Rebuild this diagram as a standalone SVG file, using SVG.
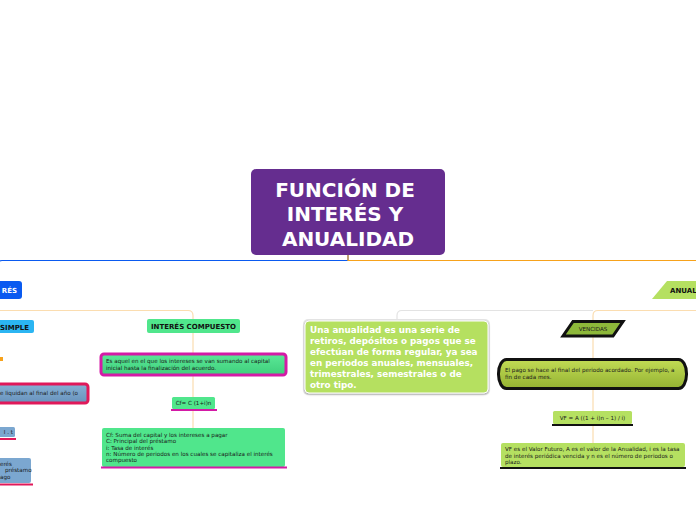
<svg xmlns="http://www.w3.org/2000/svg" width="696" height="520" viewBox="0 0 696 520">
<defs>
<linearGradient id="gGreen" x1="0" y1="0" x2="0" y2="1"><stop offset="0" stop-color="#5BE897"/><stop offset="1" stop-color="#3FCF7C"/></linearGradient>
<linearGradient id="gBlue" x1="0" y1="0" x2="0" y2="1"><stop offset="0" stop-color="#86B0D6"/><stop offset="1" stop-color="#6893BC"/></linearGradient>
<linearGradient id="gOlive" x1="0" y1="0" x2="0" y2="1"><stop offset="0" stop-color="#C2DC55"/><stop offset="1" stop-color="#94B232"/></linearGradient>
<filter id="sh" x="-10%" y="-10%" width="120%" height="130%"><feDropShadow dx="0" dy="1" stdDeviation="1" flood-color="#000" flood-opacity="0.3"/></filter>
</defs>
<style>
.t{font-family:"DejaVu Sans",Verdana,sans-serif;}
.b{font-weight:bold;}
.s{font-size:5.6px;fill:#1a1a1a;}
.h{font-size:7px;font-weight:bold;fill:#111;}
.conn{fill:none;stroke-width:1.2;}
</style>
<rect width="696" height="520" fill="#fff"/>

<g id="connectors">
<path class="conn" d="M348 255 V260.5 H2 Q-3 260.5 -3 266" stroke="#0A5AF0"/>
<path class="conn" d="M348 255 V260.5 H696" stroke="#F7A21B"/>
<path class="conn" d="M-5 316 Q-5 310.5 0 310.5 H188 Q193 310.5 193 315.5 V428" stroke="#FBDDB0" stroke-width="1.5"/>
<path class="conn" d="M593 310.5 H402 Q397 310.5 397 315.5 V321" stroke="#E3E3E3" stroke-width="1.5"/>
<path class="conn" d="M696 310.5 H598 Q593 310.5 593 315.5 V443" stroke="#FBDDB0" stroke-width="1.5"/>
</g>

<g id="root">
<rect x="251" y="169" width="194" height="86" rx="5" fill="#652D8F"/>
<text class="t b" x="345" y="197" font-size="20" fill="#fff" text-anchor="middle">FUNCIÓN DE</text>
<text class="t b" x="345" y="221" font-size="20" fill="#fff" text-anchor="middle">INTERÉS Y</text>
<text class="t b" x="348" y="246" font-size="20" fill="#fff" text-anchor="middle">ANUALIDAD</text>
</g>

<g id="interes">
<rect x="-10" y="281" width="32" height="18" rx="3" fill="#0A5AF0"/>
<text class="t b" x="17" y="293" font-size="7" fill="#fff" text-anchor="end">RÉS</text>
</g>

<g id="simple">
<rect x="-10" y="320" width="44" height="13" rx="2" fill="#2BB5F2"/>
<text class="t h" x="29" y="329.5" text-anchor="end">SIMPLE</text>
</g>

<g id="simple-dot"><rect x="-1" y="357" width="4" height="4" fill="#F7A21B"/></g>

<g id="simple-def">
<rect x="-10" y="384" width="98" height="19" rx="3" fill="url(#gBlue)" stroke="#E0195A" stroke-width="3"/>
<text class="t s" x="78" y="395" text-anchor="end">e liquidan al final del año (o</text>
</g>

<g id="simple-formula">
<rect x="-10" y="427" width="25" height="10" rx="1.5" fill="#7BA7D0"/>
<text class="t s" x="13" y="434" text-anchor="end">I . t</text>
<line x1="-2" y1="439" x2="16" y2="439" stroke="#E0195A" stroke-width="2"/>
</g>

<g id="simple-vars">
<rect x="-10" y="458" width="41" height="25" rx="2" fill="#7BA7D0"/>
<text class="t s" x="0" y="466">erés</text>
<text class="t s" x="5" y="472">préstamo</text>
<text class="t s" x="0" y="479">ago</text>
<line x1="-2" y1="484.5" x2="33" y2="484.5" stroke="#E0195A" stroke-width="2"/>
</g>

<g id="compuesto">
<rect x="147" y="319" width="93" height="14" rx="2" fill="#50E68C"/>
<text class="t h" x="193.5" y="328.5" text-anchor="middle">INTERÉS COMPUESTO</text>
</g>

<g id="compuesto-def">
<rect x="101" y="354" width="185" height="21" rx="3" fill="url(#gGreen)" stroke="#D41AA6" stroke-width="3"/>
<text class="t s" x="106" y="363">Es aquel en el que los intereses se van sumando  al capital</text>
<text class="t s" x="106" y="370">inicial hasta la finalización del acuerdo.</text>
</g>

<g id="compuesto-formula">
<rect x="172" y="397" width="43" height="12" rx="1.5" fill="#50E68C"/>
<text class="t s" x="193.5" y="405" text-anchor="middle">Cf= C (1+i)n</text>
<line x1="171" y1="410" x2="217" y2="410" stroke="#D41AA6" stroke-width="2"/>
</g>

<g id="compuesto-vars">
<rect x="102" y="428" width="183" height="39" rx="2" fill="#50E68C"/>
<text class="t s" x="106" y="437">Cf: Suma del capital y los intereses a pagar</text>
<text class="t s" x="106" y="443.3">C: Principal del préstamo</text>
<text class="t s" x="106" y="449.6">i: Tasa de interés</text>
<text class="t s" x="106" y="455.9">n: Número de periodos en los cuales se capitaliza el interés</text>
<text class="t s" x="106" y="462.2">compuesto</text>
<line x1="101" y1="467.5" x2="287" y2="467.5" stroke="#D41AA6" stroke-width="2"/>
</g>

<g id="anualidad">
<polygon points="667,281 700,281 700,299 652,299" fill="#B5E061"/>
<text class="t h" x="670" y="293">ANUAL</text>
</g>

<g id="anualidad-def">
<rect x="303" y="319" width="187" height="76" rx="5" fill="#E6E6E6"/>
<rect x="305" y="321" width="183" height="72" rx="4" fill="#B5E061" stroke="#fff" stroke-width="1" filter="url(#sh)"/>
<g class="t b" font-size="8.8" fill="#fff">
<text x="310" y="332.5">Una anualidad es una serie de</text>
<text x="310" y="343.6">retiros, depósitos o pagos que se</text>
<text x="310" y="354.7">efectúan de forma regular, ya sea</text>
<text x="310" y="365.8">en periodos anuales, mensuales,</text>
<text x="310" y="376.9">trimestrales, semestrales o de</text>
<text x="310" y="388">otro tipo.</text>
</g>
</g>

<g id="vencidas">
<polygon points="573,321.5 623,321.5 613,336 563,336" fill="#8DB83A" stroke="#111" stroke-width="3" stroke-linejoin="miter"/>
<text class="t s" x="593" y="330.5" text-anchor="middle">VENCIDAS</text>
</g>

<g id="vencidas-def">
<rect x="498.5" y="359.5" width="188" height="29" rx="8" ry="14" fill="url(#gOlive)" stroke="#111" stroke-width="3"/>
<text class="t s" x="505" y="372">El pago se hace al final del periodo acordado. Por ejemplo, a</text>
<text class="t s" x="505" y="379">fin de cada mes.</text>
</g>

<g id="vf-formula">
<rect x="553" y="411" width="79" height="13" rx="1.5" fill="#B5E061"/>
<text class="t s" x="592.5" y="419.5" text-anchor="middle">VF = A ((1 + i)n – 1) / i)</text>
<line x1="552" y1="425" x2="633" y2="425" stroke="#111" stroke-width="2"/>
</g>

<g id="vf-vars">
<rect x="501" y="443" width="184" height="24" rx="2" fill="#B5E061"/>
<text class="t s" x="505" y="451">VF es el Valor Futuro, A es el valor de la Anualidad, i es la tasa</text>
<text class="t s" x="505" y="457.5">de interés periódica vencida y n es el número de periodos o</text>
<text class="t s" x="505" y="464">plazo.</text>
<line x1="500" y1="468" x2="686" y2="468" stroke="#111" stroke-width="2"/>
</g>
</svg>
